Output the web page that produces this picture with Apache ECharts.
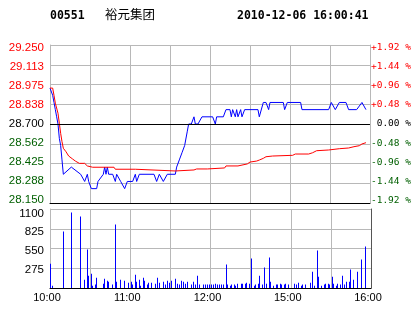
<!DOCTYPE html>
<html><head><meta charset="utf-8">
<script src="https://cdn.jsdelivr.net/npm/echarts@6/dist/echarts.min.js"></script>
<style>html,body{margin:0;padding:0;background:#fff}#c{width:414px;height:314px}</style>
</head><body><div id="c"></div>
<script>
const stockCode = '00551';
const stockName = '裕元集团';
const stampText = '2010-12-06 16:00:41';
const prevClose = 28.70;
const priceMin = 28.15, priceMax = 29.25;
const leftTickLabels = ['28.150','28.288','28.425','28.562','28.700','28.838','28.975','29.113','29.250'];
const rightTickLabels = ['-1.92 %','-1.44 %','-0.96 %','-0.48 %',' 0.00 %','+0.48 %','+0.96 %','+1.44 %','+1.92 %'];
const timeLabels = ['10:00','11:00','12:00','15:00','16:00'];
const volTickLabels = ['', '275', '550', '825', '1100'];
const volMax = 1100, volStep = 275;

// minutes since 10:00 (trading minutes, 240 total)
const priceMinutes = [0,2,3,4,5,6,7,8,9,10,16,23,26,28,29,31,35,36,40,41,42,43,44,47,49,50,53,56,58,62,64,65,67,78,80,82,85,88,94,95,97,99,101,103,104,106,108,109,111,114,122,124,125,130,132,135,136,137,139,140,141,143,144,146,156,157,160,162,164,165,175,176,178,188,189,209,211,214,217,222,224,230,234,237];
const priceValues  = [28.95,28.90,28.85,28.80,28.75,28.70,28.60,28.55,28.45,28.35,28.40,28.35,28.30,28.35,28.30,28.25,28.25,28.30,28.35,28.40,28.35,28.40,28.35,28.35,28.30,28.35,28.30,28.25,28.30,28.30,28.35,28.30,28.35,28.35,28.30,28.35,28.30,28.35,28.35,28.40,28.45,28.50,28.55,28.65,28.70,28.70,28.75,28.70,28.70,28.75,28.75,28.70,28.75,28.75,28.80,28.80,28.75,28.80,28.75,28.80,28.75,28.80,28.75,28.80,28.80,28.75,28.85,28.85,28.80,28.85,28.85,28.80,28.85,28.85,28.80,28.80,28.85,28.80,28.85,28.85,28.80,28.80,28.85,28.80];

const avgMinutes = [0,2,3,4,6,7,8,9,10,12,14,17,19,22,26,28,32,48,49,64,65,94,95,108,110,118,119,131,132,141,142,148,150,155,157,160,162,167,182,184,194,197,200,209,217,224,228,232,234,237];
const avgValues  = [28.95,28.95,28.90,28.845,28.775,28.705,28.635,28.577,28.531,28.507,28.477,28.456,28.442,28.426,28.426,28.408,28.399,28.399,28.385,28.385,28.375,28.373,28.380,28.380,28.387,28.387,28.394,28.394,28.408,28.408,28.417,28.422,28.435,28.442,28.449,28.461,28.472,28.477,28.482,28.491,28.491,28.500,28.514,28.519,28.528,28.533,28.542,28.549,28.561,28.570];

const volMinutes = [0,2,10,16,23,26,28,29,31,32,34,35,40,41,43,44,47,49,50,53,56,59,61,62,64,65,67,68,70,71,73,74,76,79,80,82,85,86,88,89,91,94,95,97,98,100,101,103,106,107,109,110,112,115,116,118,119,121,122,124,125,127,128,130,132,133,135,136,138,139,140,143,144,146,147,149,151,153,154,156,157,159,160,162,164,165,167,169,170,172,173,175,176,178,183,184,186,188,189,191,195,196,198,200,201,203,205,206,208,209,211,212,214,215,217,219,220,222,224,225,227,230,233,236];
const volValues  = [339,33,786,1052,996,116,535,172,200,33,47,144,60,130,102,88,47,884,88,116,102,74,88,47,186,88,116,33,144,102,47,74,74,60,144,74,88,47,102,74,102,130,60,47,102,88,60,88,47,88,47,172,47,47,47,47,47,47,47,60,47,47,47,47,326,47,33,47,47,33,60,60,60,60,74,60,410,33,47,60,172,47,284,60,423,88,33,47,47,60,47,47,60,47,60,47,74,33,47,47,74,228,33,522,158,33,47,60,60,47,158,60,33,60,47,172,47,88,88,256,116,228,396,578];

const GRAY = '#b8b8b8';
const GREEN = '#005f00';
const RED = '#ff0000';
const BLUE = '#0000ff';
const levelColor = i => i < 4 ? GREEN : (i === 4 ? '#000000' : RED);
// label ladders: tick labels sit slightly tighter than the grid lines (as in the source)
const priceLabelIndex = v => (v % 20 === 0 ? v / 20 : -1);
const volLabelIndex = v => (v % 100 === 0 ? v / 100 : -1);

const chart = echarts.init(document.getElementById('c'), null, {renderer: 'canvas'});
chart.setOption({
  animation: false,
  backgroundColor: '#ffffff',
  graphic: [
    {type:'text', left: 50, top: 10, style:{text: stockCode, font: 'bold 11.5px "DejaVu Sans Mono"', fill:'#000'}},
    {type:'text', left: 105, top: 8, style:{text: stockName, font: '12.5px "Noto Sans CJK SC"', fill:'#000'}},
    {type:'text', left: 237, top: 10, style:{text: stampText, font: 'bold 11.5px "DejaVu Sans Mono"', fill:'#000'}}
  ],
  grid: [
    {left: 50, top: 45, width: 321, height: 158},
    {left: 50, top: 209, width: 321, height: 79}
  ],
  xAxis: [
    {gridIndex: 0, type: 'value', min: 0, max: 240, interval: 30,
     axisLine: {show: true, onZero: false, lineStyle: {color: '#000', width: 1}},
     axisTick: {show: false}, axisLabel: {show: false},
     splitLine: {show: true, lineStyle: {color: GRAY}}},
    {gridIndex: 1, type: 'value', min: 0, max: 240, interval: 30,
     axisLine: {show: true, onZero: false, lineStyle: {color: '#000', width: 1}},
     axisTick: {show: false},
     axisLabel: {show: true, margin: 4, fontSize: 11, fontFamily: 'Liberation Sans', color: '#000',
       padding: [0, 6, 0, 0],
       formatter: v => (v % 60 === 0 ? timeLabels[v / 60] : '')},
     splitLine: {show: true, lineStyle: {color: GRAY}}}
  ],
  yAxis: [
    // 0: price scale used by the lines
    {gridIndex: 0, type: 'value', min: priceMin, max: priceMax, show: false},
    // 1: percent steps -> grid lines and left border
    {gridIndex: 0, type: 'value', position: 'left', min: -4, max: 4, interval: 1,
     axisLine: {show: true, onZero: false, lineStyle: {color: GRAY}}, axisTick: {show: false},
     axisLabel: {show: false},
     splitLine: {show: true, lineStyle: {color: GRAY}}},
    // 2: left price labels
    {gridIndex: 0, type: 'value', position: 'left', min: -3, max: 163, interval: 1,
     axisLine: {show: false}, axisTick: {show: false}, splitLine: {show: false},
     axisLabel: {margin: 6, fontSize: 11.5, fontFamily: 'Liberation Sans',
       showMinLabel: false, showMaxLabel: false,
       formatter: v => { const i = priceLabelIndex(v); return i >= 0 ? leftTickLabels[i] : ''; },
       color: v => levelColor(priceLabelIndex(Number(v)))}},
    // 3: right percent labels + right border
    {gridIndex: 0, type: 'value', position: 'right', min: -3, max: 163, interval: 1,
     axisLine: {show: true, onZero: false, lineStyle: {color: GRAY}}, axisTick: {show: false},
     splitLine: {show: false},
     axisLabel: {margin: 1, fontSize: 9.5, fontFamily: 'DejaVu Sans Mono',
       showMinLabel: false, showMaxLabel: false,
       formatter: v => { const i = priceLabelIndex(v); return i >= 0 ? rightTickLabels[i] : ''; },
       color: v => levelColor(priceLabelIndex(Number(v)))}},
    // 4: volume scale
    {gridIndex: 1, type: 'value', position: 'left', min: 0, max: volMax, interval: volStep,
     axisLine: {show: true, onZero: false, lineStyle: {color: GRAY}}, axisTick: {show: false},
     axisLabel: {show: false},
     splitLine: {show: true, lineStyle: {color: GRAY}}},
    // 5: volume labels
    {gridIndex: 1, type: 'value', position: 'left', min: 5, max: 423, interval: 1,
     axisLine: {show: false}, axisTick: {show: false}, splitLine: {show: false},
     axisLabel: {margin: 6, fontSize: 11.5, fontFamily: 'Liberation Sans', color: '#000',
       showMinLabel: false, showMaxLabel: false,
       formatter: v => { const i = volLabelIndex(v); return i > 0 ? volTickLabels[i] : ''; }}},
    // 6: right border of the volume panel
    {gridIndex: 1, type: 'value', position: 'right', min: 0, max: volMax, interval: volStep,
     axisLine: {show: true, onZero: false, lineStyle: {color: '#555555', width: 1}}, axisTick: {show: false},
     splitLine: {show: false}, axisLabel: {show: false}}
  ],
  series: [
    {type: 'line', xAxisIndex: 0, yAxisIndex: 0, symbol: 'none', silent: true,
     data: priceMinutes.map((m, i) => [m, priceValues[i]]),
     lineStyle: {color: BLUE, width: 1},
     markLine: {silent: true, symbol: 'none', label: {show: false},
       lineStyle: {color: '#000', type: 'solid', width: 1},
       data: [{yAxis: prevClose}]}},
    {type: 'line', xAxisIndex: 0, yAxisIndex: 0, symbol: 'none', silent: true,
     data: avgMinutes.map((m, i) => [m, avgValues[i]]),
     lineStyle: {color: RED, width: 1}},
    {type: 'custom', xAxisIndex: 1, yAxisIndex: 4, silent: true,
     encode: {x: 0, y: 1},
     data: volMinutes.map((m, i) => [m, volValues[i]]),
     renderItem: (params, api) => {
       const top = api.coord([api.value(0), api.value(1)]);
       const base = api.coord([api.value(0), 0]);
       return {type: 'rect',
         shape: {x: Math.floor(top[0]), y: top[1], width: 1, height: base[1] - top[1]},
         style: {fill: BLUE}};
     }}
  ]
});
</script>
</body></html>
